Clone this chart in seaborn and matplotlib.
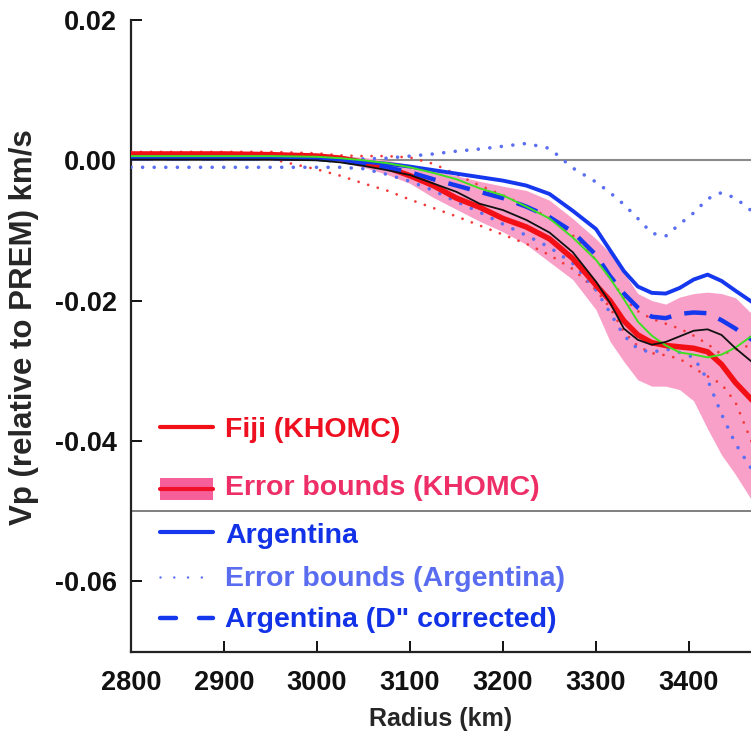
import numpy as np
import pandas as pd
import matplotlib
matplotlib.use("Agg")
import matplotlib.pyplot as plt
import seaborn as sns

# ---- data ----
radius = [2800, 2850, 2900, 2950, 3000, 3025, 3050, 3075, 3100, 3125, 3150, 3175,
          3200, 3225, 3250, 3275, 3300, 3315, 3330, 3345, 3360, 3375, 3390, 3405,
          3420, 3435, 3450, 3470]

fiji = [0.0009, 0.0009, 0.0009, 0.0008, 0.0006, 0.0003, -0.0003, -0.0010, -0.0022, -0.0036,
        -0.0054, -0.0067, -0.0083, -0.0095, -0.0112, -0.0140, -0.0178, -0.0200, -0.0229, -0.0249,
        -0.0260, -0.0264, -0.0266, -0.0268, -0.0273, -0.0291, -0.0317, -0.0345]

fiji_err_upper = [0.0012, 0.0012, 0.0012, 0.0011, 0.0010, 0.0007, 0.0004, 0.0000, -0.0006, -0.0015,
                  -0.0022, -0.0030, -0.0037, -0.0043, -0.0057, -0.0083, -0.0112, -0.0132, -0.0160, -0.0190,
                  -0.0200, -0.0205, -0.0195, -0.0190, -0.0188, -0.0190, -0.0196, -0.0222]
fiji_err_lower = [0.0006, 0.0006, 0.0006, 0.0005, 0.0002, -0.0002, -0.0010, -0.0020, -0.0033, -0.0053,
                  -0.0070, -0.0087, -0.0102, -0.0120, -0.0145, -0.0170, -0.0213, -0.0258, -0.0287, -0.0313,
                  -0.0322, -0.0322, -0.0327, -0.0343, -0.0383, -0.0420, -0.0448, -0.0490]

fiji_dot_upper = [0.0012, 0.0012, 0.0012, 0.0012, 0.0010, 0.0007, 0.0006, 0.0006, 0.0004, -0.0005,
                  -0.0020, -0.0036, -0.0050, -0.0065, -0.0082, -0.0107, -0.0142, -0.0167, -0.0197, -0.0215,
                  -0.0226, -0.0233, -0.0240, -0.0250, -0.0262, -0.0277, -0.0270, -0.0262]
fiji_dot_lower = [0.0006, 0.0006, 0.0005, 0.0002, -0.0013, -0.0022, -0.0033, -0.0043, -0.0056, -0.0068,
                  -0.0080, -0.0093, -0.0106, -0.0119, -0.0135, -0.0155, -0.0185, -0.0210, -0.0245, -0.0265,
                  -0.0275, -0.0278, -0.0283, -0.0296, -0.0308, -0.0319, -0.0345, -0.0410]

argentina = [0.0004, 0.0004, 0.0004, 0.0004, 0.0003, 0.0001, -0.0002, -0.0005, -0.0009, -0.0014,
             -0.0019, -0.0024, -0.0029, -0.0036, -0.0048, -0.0072, -0.0098, -0.0128, -0.0158, -0.0180,
             -0.0189, -0.0190, -0.0182, -0.0170, -0.0163, -0.0172, -0.0186, -0.0204]

argentina_corr = [0.0003, 0.0003, 0.0003, 0.0003, 0.0002, -0.0001, -0.0005, -0.0010, -0.0017, -0.0027,
                  -0.0036, -0.0045, -0.0054, -0.0066, -0.0081, -0.0102, -0.0135, -0.0165, -0.0190, -0.0210,
                  -0.0223, -0.0225, -0.0219, -0.0217, -0.0218, -0.0228, -0.0240, -0.0258]

arg_err_upper = [0.0003, 0.0003, 0.0003, 0.0003, 0.0002, 0.0002, 0.0002, 0.0003, 0.0006, 0.0009,
                 0.0013, 0.0016, 0.0020, 0.0024, 0.0017, -0.0011, -0.0031, -0.0046, -0.0063, -0.0083,
                 -0.0104, -0.0108, -0.0091, -0.0075, -0.0055, -0.0046, -0.0054, -0.0075]
arg_err_lower = [-0.0010, -0.0010, -0.0010, -0.0010, -0.0010, -0.0010, -0.0012, -0.0020, -0.0030, -0.0043,
                 -0.0059, -0.0074, -0.0091, -0.0107, -0.0124, -0.0147, -0.0185, -0.0217, -0.0250, -0.0269,
                 -0.0274, -0.0269, -0.0274, -0.0281, -0.0313, -0.0362, -0.0404, -0.0446]

model_green = [0.0006, 0.0006, 0.0006, 0.0006, 0.0005, 0.0003, 0.0000, -0.0004, -0.0010, -0.0018,
               -0.0027, -0.0040, -0.0050, -0.0066, -0.0083, -0.0110, -0.0142, -0.0168, -0.0198, -0.0230,
               -0.0250, -0.0264, -0.0274, -0.0277, -0.0281, -0.0277, -0.0267, -0.0248]

model_black = [0.0001, 0.0001, 0.0001, 0.0001, 0.0000, -0.0003, -0.0008, -0.0014, -0.0021, -0.0033,
               -0.0045, -0.0062, -0.0071, -0.0085, -0.0103, -0.0131, -0.0173, -0.0203, -0.0240, -0.0256,
               -0.0263, -0.0259, -0.0251, -0.0243, -0.0241, -0.0249, -0.0268, -0.0290]

x_ticks = [2800, 2900, 3000, 3100, 3200, 3300, 3400]
y_ticks = [-0.06, -0.04, -0.02, 0.00, 0.02]

legend_labels = ["Fiji (KHOMC)", "Error bounds (KHOMC)", "Argentina",
                 "Error bounds (Argentina)", "Argentina (D\" corrected)"]

# ---- style ----
sns.set_style("ticks")
plt.rcParams['font.family'] = ['Liberation Sans', 'DejaVu Sans']
plt.rcParams['font.weight'] = 'bold'

RED = '#f21016'
PINK = '#f9a0c8'
BLUE = '#1538ee'
LBLUE = '#5b6ff2'
RDOT = '#f23a3a'

df = pd.DataFrame({"radius": radius, "fiji": fiji, "argentina": argentina,
                   "argentina_corr": argentina_corr, "green": model_green,
                   "black": model_black, "aup": arg_err_upper, "alo": arg_err_lower,
                   "fup": fiji_dot_upper, "flo": fiji_dot_lower})

fig = plt.figure(figsize=(7.51, 7.33), dpi=100)
ax = fig.add_axes([131 / 751, 1 - 652 / 733, 1 - 131 / 751, (652 - 20) / 733])

# reference lines
ax.axhline(0.0, color='#8a8a8a', lw=1.5, zorder=1)
ax.axhline(-0.05, color='#6a6a6a', lw=1.2, zorder=1)

# error band (KHOMC)
ax.fill_between(radius, fiji_err_lower, fiji_err_upper, color=PINK, lw=0, zorder=2)

common = dict(ax=ax, errorbar=None, sort=False, legend=False)
for col in ["fup", "flo"]:
    sns.lineplot(data=df, x="radius", y=col, color=RDOT, lw=2.0,
                 linestyle=(0, (0.01, 3.6)), dash_capstyle='round', zorder=3, **common)
for col in ["aup", "alo"]:
    sns.lineplot(data=df, x="radius", y=col, color=LBLUE, lw=2.6,
                 linestyle=(0, (0.01, 3.2)), dash_capstyle='round', zorder=3, **common)

sns.lineplot(data=df, x="radius", y="fiji", color=RED, lw=4.0, zorder=4, **common)
sns.lineplot(data=df, x="radius", y="argentina", color=BLUE, lw=2.8, zorder=5, **common)
sns.lineplot(data=df, x="radius", y="argentina_corr", color=BLUE, lw=3.2,
             linestyle=(0, (5, 3)), zorder=5, **common)
sns.lineplot(data=df, x="radius", y="green", color='#3ee022', lw=1.4, zorder=6, **common)
sns.lineplot(data=df, x="radius", y="black", color='#111111', lw=1.3, zorder=6, **common)

ax.set_xlim(2800, 2800 + 620 / 0.93)
ax.set_ylim(-0.0701, 0.02)
ax.set_xticks(x_ticks)
ax.set_xticklabels([str(t) for t in x_ticks])
ax.set_yticks(y_ticks)
ax.set_yticklabels([f"{t:.2f}" for t in y_ticks])
ax.tick_params(direction='in', length=8, width=1.4, labelsize=19.5, colors='#111111')
ax.tick_params(axis='x', pad=13)
ax.tick_params(axis='y', pad=10)
for lab in ax.get_xticklabels() + ax.get_yticklabels():
    lab.set_fontweight('bold')
ax.spines['top'].set_visible(False)
ax.spines['right'].set_visible(False)
for s in ['left', 'bottom']:
    ax.spines[s].set_linewidth(1.6)
    ax.spines[s].set_color('#222222')

ax.set_xlabel("Radius (km)", fontsize=18, fontweight='bold')
ax.set_ylabel("Vp (relative to PREM) km/s", fontsize=22.5, fontweight='bold')

def fx(px):
    return (px - 131) / 620

def fy(py):
    return (652 - py) / 632

ax.xaxis.set_label_coords(fx(441), fy(707))
ax.yaxis.set_label_coords(fx(39), fy(327))

# ---- in-axes legend ----
x0, x1 = fx(160), fx(213)
tr = ax.transAxes
ax.plot([x0, x1], [fy(427), fy(427)], color=RED, lw=3.0, transform=tr, zorder=7)
ax.fill_between([x0, x1], [fy(500), fy(500)], [fy(478), fy(478)], color='#f5609a',
                transform=tr, lw=0, zorder=7)
ax.plot([x0, x1], [fy(489), fy(489)], color='#f0102a', lw=3.0, transform=tr, zorder=8)
ax.plot([x0, x1], [fy(532), fy(532)], color=BLUE, lw=3.0, transform=tr, zorder=7)
ax.plot([x0, x1], [fy(577), fy(577)], color=LBLUE, lw=1.8, linestyle=(0, (0.01, 5.5)),
        dash_capstyle='round', transform=tr, zorder=7)
ax.plot([fx(160), fx(176)], [fy(618), fy(618)], color=BLUE, lw=3.2, transform=tr, zorder=7)
ax.plot([fx(199), fx(213)], [fy(618), fy(618)], color=BLUE, lw=3.2, transform=tr, zorder=7)

label_colors = ['#ee1020', '#ee2e66', '#1232e8', '#5a6cf0', '#1232e8']
label_y = [430, 488, 536, 579, 620]
for lab, c, py in zip(legend_labels, label_colors, label_y):
    ax.text(fx(225), fy(py), lab, color=c, fontsize=20.5, fontweight='bold',
            transform=tr, va='center', ha='left', zorder=9)

fig.savefig("out.png", dpi=100)
